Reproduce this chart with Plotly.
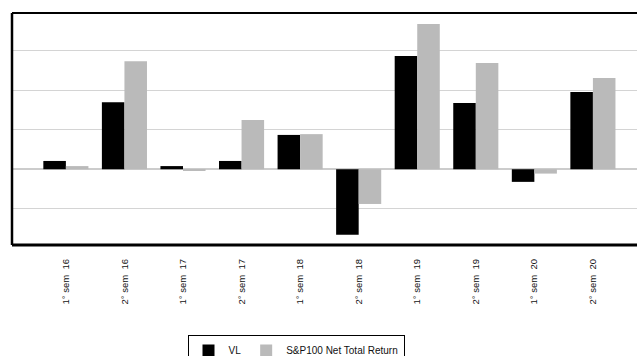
import plotly.graph_objects as go

# Semester labels and half-year returns (%)
NB = "\u00a0"
periods = [f"1° sem{NB}{NB}16", f"2° sem{NB}{NB}16", f"1° sem{NB}{NB}17", f"2° sem{NB}{NB}17",
           f"1° sem{NB}{NB}18", f"2° sem{NB}{NB}18", f"1° sem{NB}{NB}19", f"2° sem{NB}{NB}19",
           f"1° sem{NB}{NB}20", f"2° sem{NB}{NB}20"]
vl = [2.1, 17.0, 0.8, 2.1, 8.7, -16.6, 28.7, 16.8, -3.2, 19.6]
sp100 = [0.8, 27.4, -0.2, 12.5, 8.9, -8.8, 36.8, 26.9, -1.1, 23.1]

W, H = 637, 356
L, T, B = 12, 13, 111

fig = go.Figure()
fig.add_trace(go.Bar(name="VL", x=periods, y=vl, marker=dict(color="#000000", line_width=0)))
fig.add_trace(go.Bar(name="S&P100 Net Total Return", x=periods, y=sp100,
                     marker=dict(color="#bababa", line_width=0)))

# frame: left, top and bottom edges only (the right edge runs off the page)
frame = [
    dict(x0=0, x1=0, y0=0, y1=1, w=2.5),
    dict(x0=0, x1=1, y0=1, y1=1, w=2),
    dict(x0=0, x1=1, y0=0, y1=0, w=3),
]
for f in frame:
    fig.add_shape(type="line", xref="paper", yref="paper",
                  x0=f["x0"], x1=f["x1"], y0=f["y0"], y1=f["y1"],
                  line=dict(color="#000000", width=f["w"]))

fig.update_layout(
    width=W, height=H,
    margin=dict(l=L, r=0, t=T, b=B, pad=0),
    paper_bgcolor="white", plot_bgcolor="white",
    barmode="group", bargap=0.23, bargroupgap=0,
    font=dict(family="Liberation Sans, Arial, sans-serif", size=9, color="#111111"),
    showlegend=True,
    legend=dict(
        orientation="h",
        xref="container", yref="container",
        x=296 / W, xanchor="center",
        y=1 - 335 / H, yanchor="top",
        bordercolor="#000000", borderwidth=1,
        font=dict(size=10, color="#111111"),
        itemwidth=30, traceorder="normal",
    ),
    xaxis=dict(
        type="category",
        range=[-0.92, -0.92 + (W - L) / 58.56],
        tickangle=-90,
        showline=False, ticks="", showgrid=False,
        ticklabelstandoff=11,
        tickfont=dict(size=9.5, color="#111111"),
    ),
    yaxis=dict(
        range=[-19.2, 39.6],
        dtick=10, tick0=0,
        showgrid=True, gridcolor="#d4d4d4", gridwidth=1,
        zeroline=True, zerolinecolor="#cccccc", zerolinewidth=1.5,
        showline=False,
        showticklabels=False, ticks="",
    ),
)

fig.write_html("out.html")
